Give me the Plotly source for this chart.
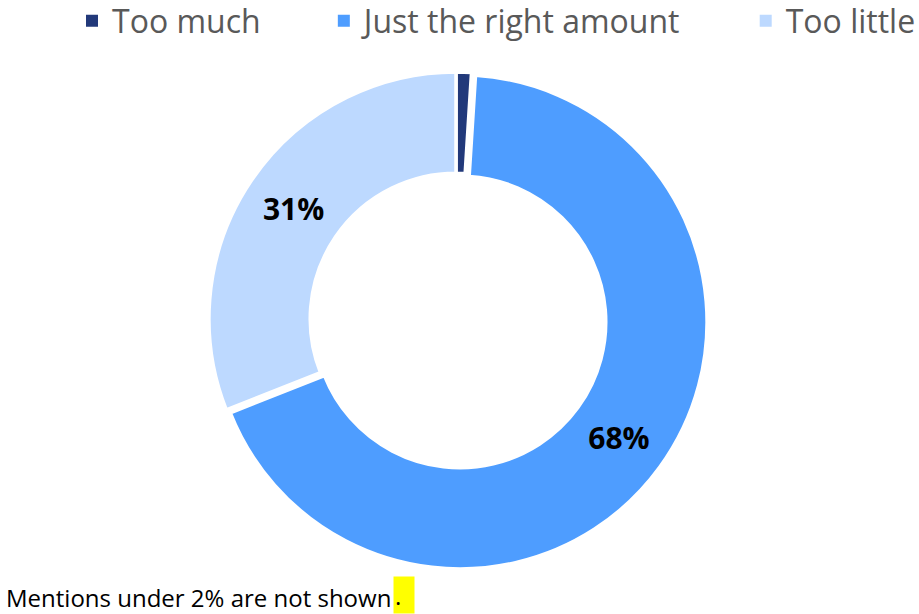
import plotly.graph_objects as go

# Survey answers and their shares (%)
categories = ["Too much", "Just the right amount", "Too little"]
shares = [1, 68, 31]
colors = ["#22397A", "#4E9DFF", "#BDD9FF"]
min_label_share = 2

# Slice labels: small mentions are left unlabeled
slice_text = [f"{v}%" if v >= min_label_share else "" for v in shares]

fig = go.Figure()

fig.add_trace(
    go.Pie(
        labels=categories,
        values=shares,
        text=slice_text,
        textinfo="text",
        textposition="inside",
        insidetextorientation="horizontal",
        textfont=dict(family="Open Sans", size=30, color="#000000", weight="bold"),
        hole=0.59,
        sort=False,
        direction="clockwise",
        rotation=0,
        pull=[0, 0.02, 0],
        marker=dict(colors=colors, line=dict(color="#FFFFFF", width=3.5)),
        showlegend=False,
        hovertemplate="%{label}: %{value}%<extra></extra>",
    )
)

# Legend keys: square swatches, with trailing room between entries
pad = "\u00a0" * 7
for i, (name, color) in enumerate(zip(categories, colors)):
    fig.add_trace(
        go.Scatter(
            x=[None],
            y=[None],
            mode="markers",
            marker=dict(symbol="square", size=12, color=color),
            name=name + (pad if i < len(categories) - 1 else ""),
            showlegend=True,
            hoverinfo="skip",
        )
    )

fig.update_layout(
    width=919,
    height=614,
    margin=dict(l=0, r=7, t=67, b=43),
    paper_bgcolor="#FFFFFF",
    plot_bgcolor="#FFFFFF",
    xaxis=dict(visible=False),
    yaxis=dict(visible=False),
    legend=dict(
        orientation="h",
        xref="container",
        yref="container",
        x=72 / 919,
        xanchor="left",
        y=1 - 21 / 614,
        yanchor="middle",
        font=dict(family="Open Sans", size=32, color="#595959"),
        itemclick=False,
        itemdoubleclick=False,
        bgcolor="rgba(0,0,0,0)",
    ),
    annotations=[
        dict(
            text="Mentions under 2% are not shown",
            xref="paper",
            yref="paper",
            x=393 / 912,
            xanchor="right",
            y=-(597 - 571) / 504,
            yanchor="middle",
            showarrow=False,
            font=dict(family="Open Sans", size=24, color="#000000"),
        ),
        dict(
            text=".",
            xref="paper",
            yref="paper",
            x=393 / 912,
            xanchor="left",
            y=-(595 - 571) / 504,
            yanchor="middle",
            showarrow=False,
            width=18,
            height=34,
            align="left",
            valign="bottom",
            bgcolor="#FFFF00",
            font=dict(family="Open Sans", size=24, color="#000000"),
        ),
    ],
)

fig.write_html("out.html")
